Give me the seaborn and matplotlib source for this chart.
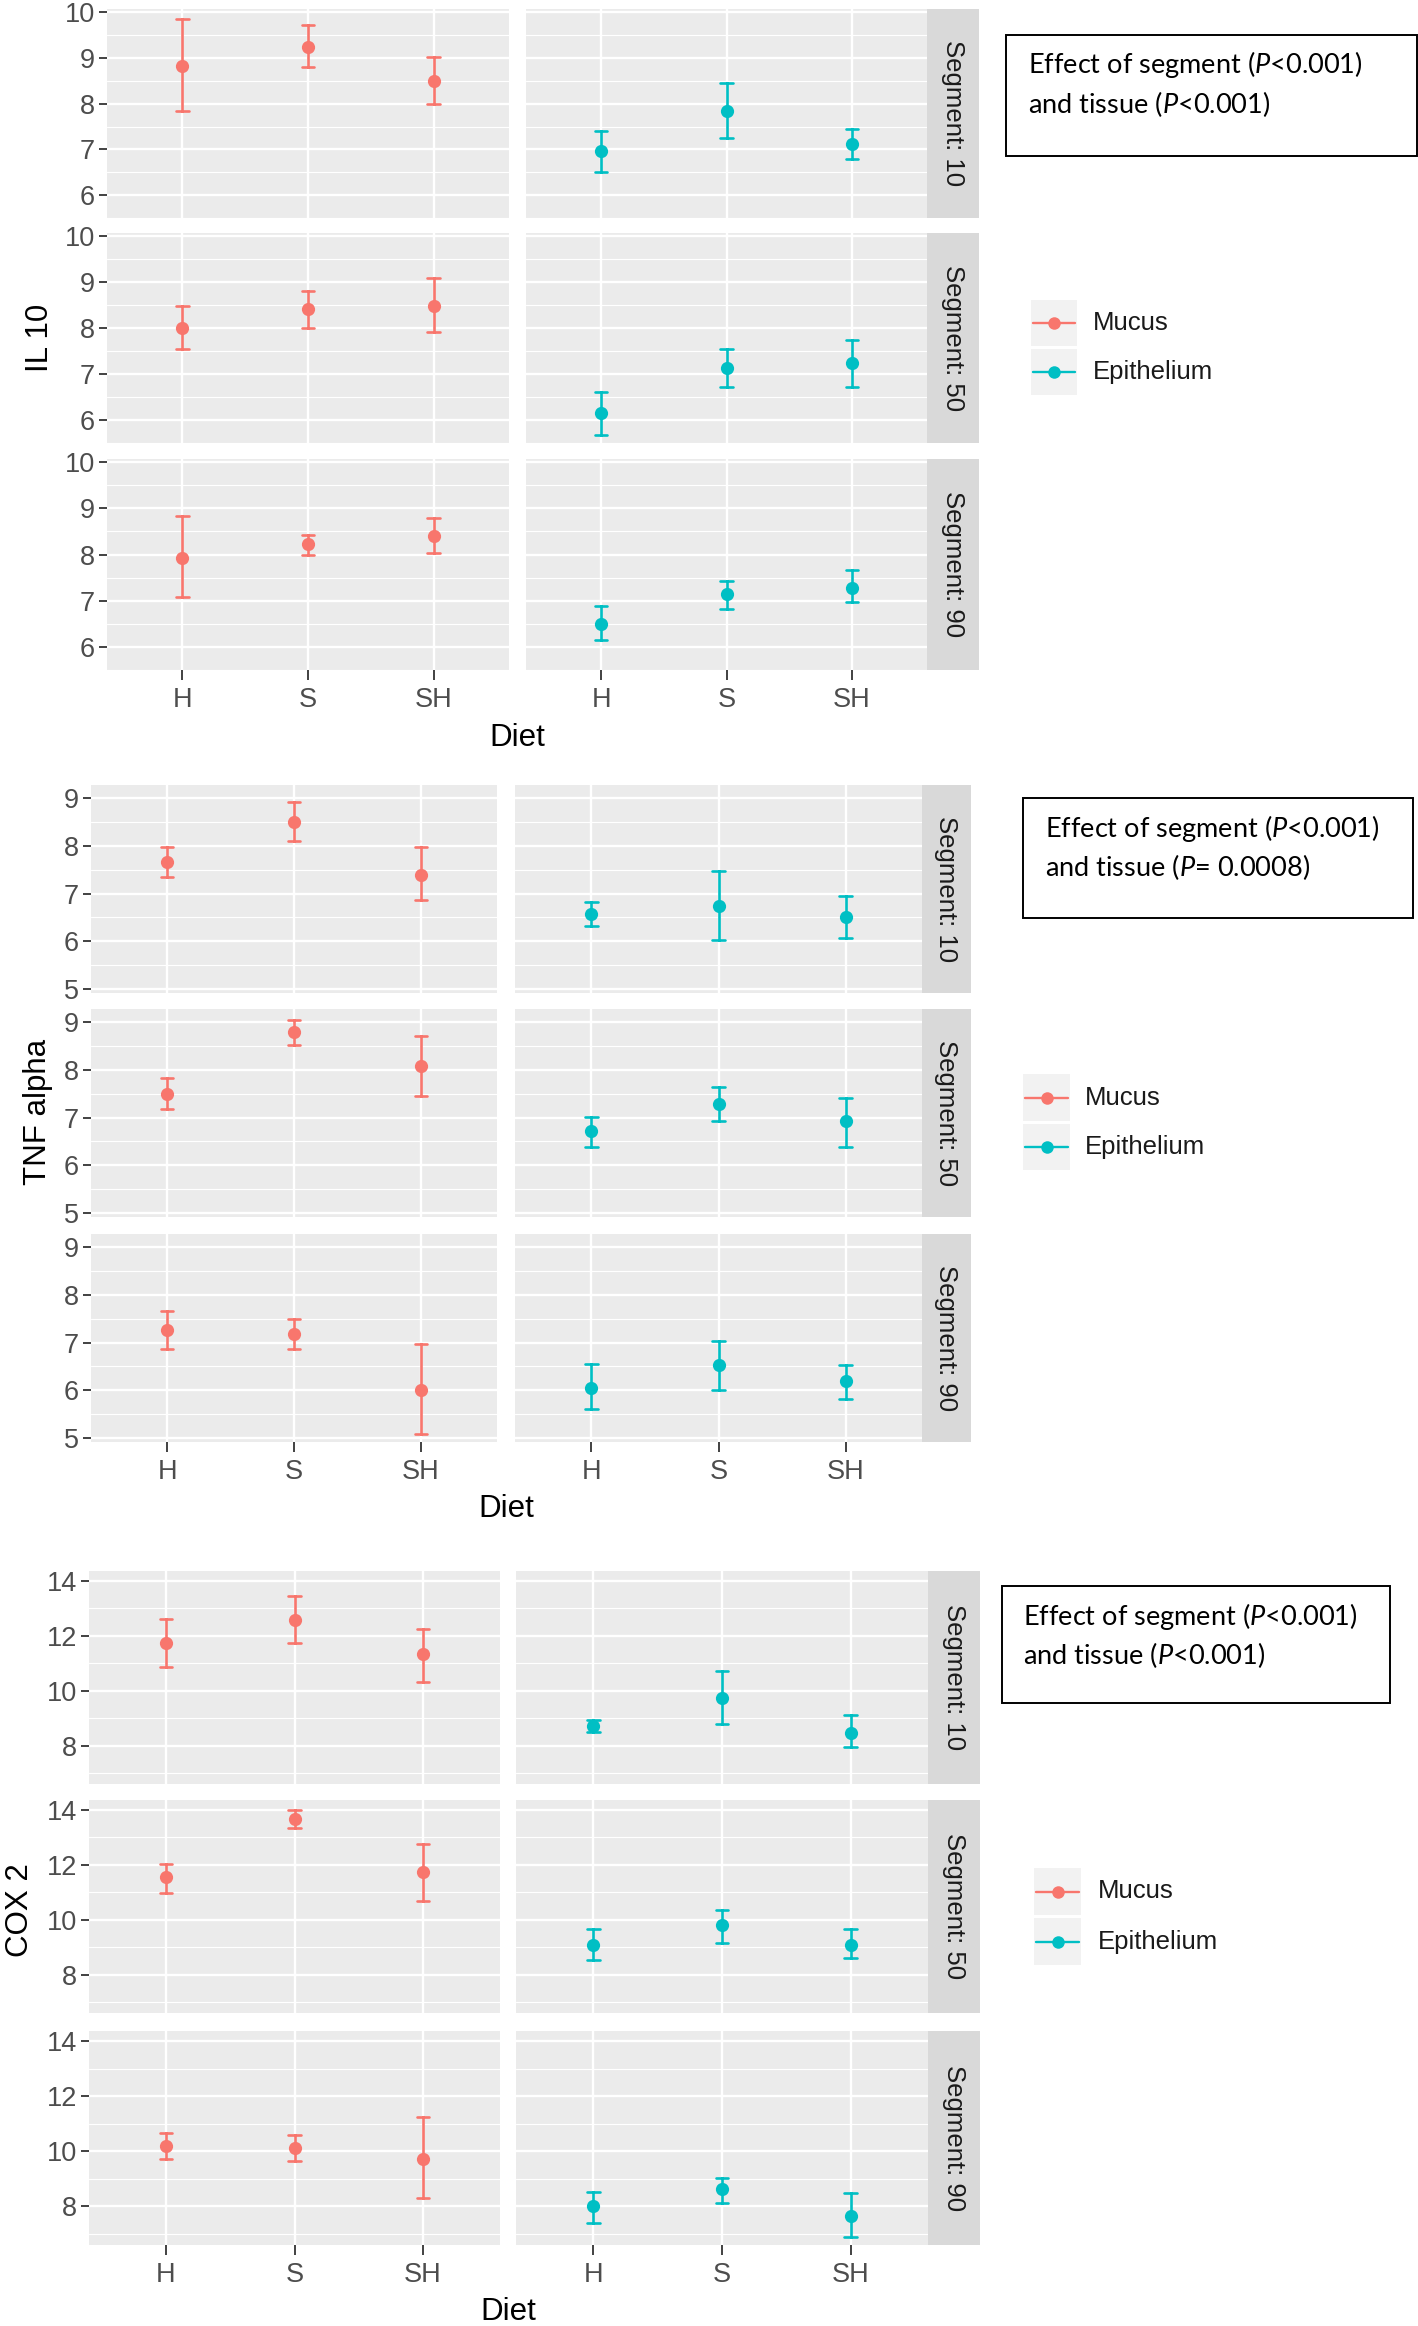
import matplotlib
matplotlib.use("Agg")
import matplotlib.pyplot as plt
from matplotlib.patches import Rectangle
import seaborn as sns
import pandas as pd

# ---- data: rows = segment 10 / 50 / 90, columns = diet H / S / SH ----
diets = ["H", "S", "SH"]
segments = ["Segment: 10", "Segment: 50", "Segment: 90"]
tissues = ["Mucus", "Epithelium"]

il10_mucus_mean = [[8.83, 9.25, 8.49], [8.00, 8.42, 8.48], [7.93, 8.22, 8.41]]
il10_mucus_low = [[7.85, 8.80, 8.00], [7.55, 8.00, 7.92], [7.09, 8.00, 8.04]]
il10_mucus_high = [[9.86, 9.73, 9.02], [8.48, 8.81, 9.09], [8.84, 8.42, 8.79]]
il10_epi_mean = [[6.97, 7.85, 7.11], [6.15, 7.13, 7.24], [6.50, 7.14, 7.28]]
il10_epi_low = [[6.51, 7.24, 6.78], [5.68, 6.71, 6.71], [6.16, 6.82, 6.97]]
il10_epi_high = [[7.40, 8.46, 7.44], [6.62, 7.55, 7.74], [6.88, 7.42, 7.66]]

tnf_mucus_mean = [[7.67, 8.50, 7.39], [7.50, 8.78, 8.08], [7.27, 7.18, 6.00]]
tnf_mucus_low = [[7.34, 8.10, 6.86], [7.18, 8.52, 7.45], [6.87, 6.87, 5.08]]
tnf_mucus_high = [[7.97, 8.92, 7.97], [7.82, 9.05, 8.70], [7.67, 7.49, 6.96]]
tnf_epi_mean = [[6.58, 6.73, 6.50], [6.71, 7.28, 6.92], [6.05, 6.54, 6.19]]
tnf_epi_low = [[6.32, 6.02, 6.06], [6.39, 6.92, 6.39], [5.60, 6.00, 5.82]]
tnf_epi_high = [[6.82, 7.48, 6.95], [7.02, 7.63, 7.41], [6.55, 7.04, 6.54]]

cox_mucus_mean = [[11.74, 12.57, 11.34], [11.55, 13.67, 11.72], [10.20, 10.13, 9.73]]
cox_mucus_low = [[10.87, 11.74, 10.30], [10.97, 13.35, 10.68], [9.71, 9.66, 8.32]]
cox_mucus_high = [[12.60, 13.46, 12.26], [12.04, 14.00, 12.77], [10.67, 10.60, 11.23]]
cox_epi_mean = [[8.73, 9.74, 8.47], [9.09, 9.79, 9.09], [8.00, 8.63, 7.66]]
cox_epi_low = [[8.51, 8.80, 7.93], [8.53, 9.16, 8.62], [7.39, 8.14, 6.90]]
cox_epi_high = [[8.92, 10.70, 9.11], [9.65, 10.36, 9.65], [8.54, 9.04, 8.47]]

y_labels = ["IL 10", "TNF alpha", "COX 2"]
y_ticks = [[6, 7, 8, 9, 10], [5, 6, 7, 8, 9], [8, 10, 12, 14]]
y_minor = [[5.5, 6.5, 7.5, 8.5, 9.5], [5.5, 6.5, 7.5, 8.5], [7, 9, 11, 13]]
y_limits = [(5.5, 10.07), (4.92, 9.27), (6.6, 14.36)]
notes = [
    ("Effect of segment ($\\mathit{P}$<0.001)", "and tissue ($\\mathit{P}$<0.001)"),
    ("Effect of segment ($\\mathit{P}$<0.001)", "and tissue ($\\mathit{P}$= 0.0008)"),
    ("Effect of segment ($\\mathit{P}$<0.001)", "and tissue ($\\mathit{P}$<0.001)"),
]

colors = {"Mucus": "#F8766D", "Epithelium": "#00BFC4"}

# ---- layout in pixels of the 1418 x 2326 output ----
W, H = 1418, 2326
layouts = [
    dict(left=(107, 509), right=(526, 927), strip=(927, 979),
         rows=[(9, 218), (233, 443), (459, 670)], ylab=(40, 338), diet_y=738,
         box=(1006, 35, 1417, 156), text_x=1028, lines_y=(65, 104),
         key_x=(1031, 1077), keys_y=[(300, 346), (349, 395)], label_x=1093),
    dict(left=(91, 497), right=(515, 922), strip=(922, 971),
         rows=[(785, 993), (1009, 1217), (1234, 1442)], ylab=(38, 1112), diet_y=1509,
         box=(1023, 798, 1413, 918), text_x=1045, lines_y=(828, 867),
         key_x=(1023, 1070), keys_y=[(1074, 1121), (1124, 1170)], label_x=1085),
    dict(left=(89, 500), right=(516, 928), strip=(928, 980),
         rows=[(1571, 1784), (1800, 2013), (2031, 2245)], ylab=(20, 1910), diet_y=2312,
         box=(1002, 1586, 1390, 1703), text_x=1023, lines_y=(1616, 1655),
         key_x=(1034, 1081), keys_y=[(1868, 1915), (1918, 1965)], label_x=1098),
]

sns.set_theme(style="darkgrid", rc={"axes.facecolor": "#EBEBEB", "grid.color": "white"})
plt.rcParams["font.family"] = ["Liberation Sans", "DejaVu Sans"]
plt.rcParams["mathtext.fontset"] = "custom"
plt.rcParams["mathtext.it"] = "Lato:italic"
plt.rcParams["mathtext.rm"] = "Lato"


def rect(x0, y0, x1, y1):
    return [x0 / W, 1 - y1 / H, (x1 - x0) / W, (y1 - y0) / H]


def draw_points(ax, mean, low, high, color):
    # three values per diet; median = mean, 100% interval = low..high
    df = pd.DataFrame({"Diet": diets * 3, "value": list(low) + list(mean) + list(high)})
    sns.pointplot(data=df, x="Diet", y="value", order=diets, estimator="median",
                  errorbar=("pi", 100), capsize=0.1, color=color, linestyle="none",
                  marker="o", markersize=9.5, markeredgewidth=0,
                  err_kws={"linewidth": 1.9, "linestyle": "-"}, ax=ax)


fig = plt.figure(figsize=(W / 100, H / 100), dpi=100)

blocks = [
    (il10_mucus_mean, il10_mucus_low, il10_mucus_high, il10_epi_mean, il10_epi_low, il10_epi_high),
    (tnf_mucus_mean, tnf_mucus_low, tnf_mucus_high, tnf_epi_mean, tnf_epi_low, tnf_epi_high),
    (cox_mucus_mean, cox_mucus_low, cox_mucus_high, cox_epi_mean, cox_epi_low, cox_epi_high),
]

for b, (mm, ml, mh, em, el, eh) in enumerate(blocks):
    lay = layouts[b]
    for r, (y0, y1) in enumerate(lay["rows"]):
        for c, (x0, x1) in enumerate([lay["left"], lay["right"]]):
            ax = fig.add_axes(rect(x0, y0, x1, y1))
            if c == 0:
                draw_points(ax, mm[r], ml[r], mh[r], colors["Mucus"])
            else:
                draw_points(ax, em[r], el[r], eh[r], colors["Epithelium"])
            ax.set_xlim(-0.6, 2.6)
            ax.set_ylim(*y_limits[b])
            ax.set_yticks(y_ticks[b])
            ax.set_yticks(y_minor[b], minor=True)
            ax.set_facecolor("#EBEBEB")
            for sp in ax.spines.values():
                sp.set_visible(False)
            ax.set_axisbelow(True)
            ax.grid(True, which="major", color="white", linewidth=1.7)
            ax.grid(True, which="minor", axis="y", color="white", linewidth=0.85)
            ax.set_xlabel("")
            ax.set_ylabel("")
            ax.tick_params(which="minor", length=0)
            ax.tick_params(axis="x", which="major", bottom=True, length=7, width=1.3,
                           color="#333333", labelsize=19.5, labelcolor="#4D4D4D", pad=5.5)
            ax.tick_params(axis="y", which="major", left=True, length=6, width=1.3,
                           color="#333333", labelsize=19.5, labelcolor="#4D4D4D", pad=2.5)
            if c == 1:
                ax.tick_params(axis="y", left=False, labelleft=False)
            if r < 2:
                ax.tick_params(axis="x", bottom=False, labelbottom=False)

        # strip on the right
        sx0, sx1 = lay["strip"]
        sax = fig.add_axes(rect(sx0, y0, sx1, y1))
        sax.set_facecolor("#D9D9D9")
        sax.set_xticks([])
        sax.set_yticks([])
        sax.grid(False)
        for sp in sax.spines.values():
            sp.set_visible(False)
        sax.text(0.5, 0.5, segments[r], rotation=-90, ha="center", va="center",
                 transform=sax.transAxes, fontsize=18.5, color="#1A1A1A")

    # axis titles
    fig.text(lay["ylab"][0] / W, 1 - lay["ylab"][1] / H, y_labels[b], rotation=90,
             ha="center", va="center", fontsize=22.5, color="black")
    cx = (lay["left"][0] + lay["right"][1]) / 2
    fig.text(cx / W, 1 - lay["diet_y"] / H, "Diet", ha="center", va="center",
             fontsize=22.5, color="black")

    # annotation box
    bx0, by0, bx1, by1 = lay["box"]
    fig.add_artist(Rectangle((bx0 / W, 1 - by1 / H), (bx1 - bx0) / W, (by1 - by0) / H,
                             transform=fig.transFigure, fill=False, edgecolor="black",
                             linewidth=1.4))
    for line, ly in zip(notes[b], lay["lines_y"]):
        fig.text(lay["text_x"] / W, 1 - ly / H, line, ha="left", va="center",
                 fontsize=19.5, family="Lato", color="black")

    # legend
    kx0, kx1 = lay["key_x"]
    for t, (ky0, ky1) in zip(tissues, lay["keys_y"]):
        kax = fig.add_axes(rect(kx0, ky0, kx1, ky1))
        kax.set_facecolor("#F2F2F2")
        kax.set_xlim(0, 1)
        kax.set_ylim(0, 1)
        kax.set_xticks([])
        kax.set_yticks([])
        kax.grid(False)
        for sp in kax.spines.values():
            sp.set_visible(False)
        kax.plot([0.05, 0.95], [0.5, 0.5], color=colors[t], linewidth=1.7)
        kax.plot([0.5], [0.5], marker="o", markersize=9, color=colors[t],
                 markeredgewidth=0)
        fig.text(lay["label_x"] / W, 1 - (ky0 + ky1) / 2 / H, t, ha="left",
                 va="center", fontsize=18.5, color="#1A1A1A")

fig.savefig("out.png", dpi=100)
